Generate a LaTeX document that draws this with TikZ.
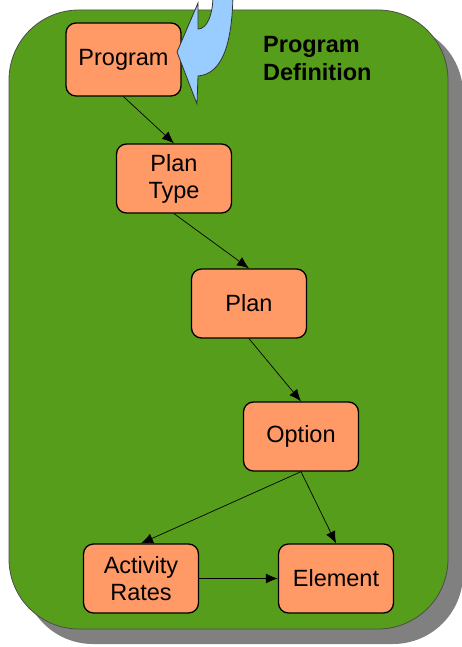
\documentclass[tikz,border=0pt]{standalone}
\usepackage{fontspec}
\setmainfont{Liberation Sans}
\usetikzlibrary{positioning,arrows.meta}
\definecolor{bggreen}{RGB}{87,157,28}
\definecolor{boxorange}{RGB}{255,153,102}
\definecolor{flowblue}{RGB}{153,204,255}
\definecolor{shadowgray}{RGB}{128,128,128}

\begin{document}
\begin{tikzpicture}[
    x=1pt, y=-1pt,
    entity/.style={rectangle, draw=black, line width=1.3pt, fill=boxorange, minimum width=115pt, minimum height=69pt, text width=105pt, align=center, rounded corners=10pt, font=\fontsize{23.5}{27}\selectfont},
    line/.style={draw, line width=0.7pt, -{Latex[length=12pt,width=10pt]}},
    title/.style={font=\bfseries\fontsize{23.5}{28}\selectfont, align=left, inner sep=0pt}
  ]
    \useasboundingbox (0,0) rectangle (461,647);
    % panel and its shadow
    \fill [shadowgray, rounded corners=70pt] (23,24) rectangle (463,644);
    \filldraw [fill=bggreen, draw=black!70, line width=0.8pt, rounded corners=70pt] (9,10) rectangle (448,629);

    \node [entity, minimum height=73pt] (program) at (123.5,59.5) {Program};
    \node [entity, below=46.7pt of program, xshift=50.5pt] (plantype) {Plan\\Type};
    \node [entity, below=54.7pt of plantype, xshift=75pt] (plan) {Plan};
    \node [entity, below=62.7pt of plan, xshift=52pt] (option) {Option};
    \node [entity, below=71.7pt of option, xshift=-160pt] (activityrates) {Activity\\Rates};
    \node [entity, right=78.7pt of activityrates] (element) {Element};

    \node [title, anchor=west] (programdef) at (263,58.5) {Program\\Definition};

    \path [line] (program.south) -- (plantype.north);
    \path [line] (plantype.south) -- (plan.north);
    \path [line] (plan.south) -- (option.north);
    \path [line] (option.south) -- (activityrates.north);
    \path [line] (option.south) -- (element.north);
    \path [line] (activityrates) -- (element);

    % incoming flow arrow
    \filldraw [fill=flowblue, draw=black!80, line width=0.8pt] (233,-5) .. controls (232,45) and (222,74) .. (198,76) -- (197,104) -- (177,52) -- (198,3) -- (198,29) .. controls (207,29) and (213,15) .. (213,-5) -- cycle;
\end{tikzpicture}
\end{document}
